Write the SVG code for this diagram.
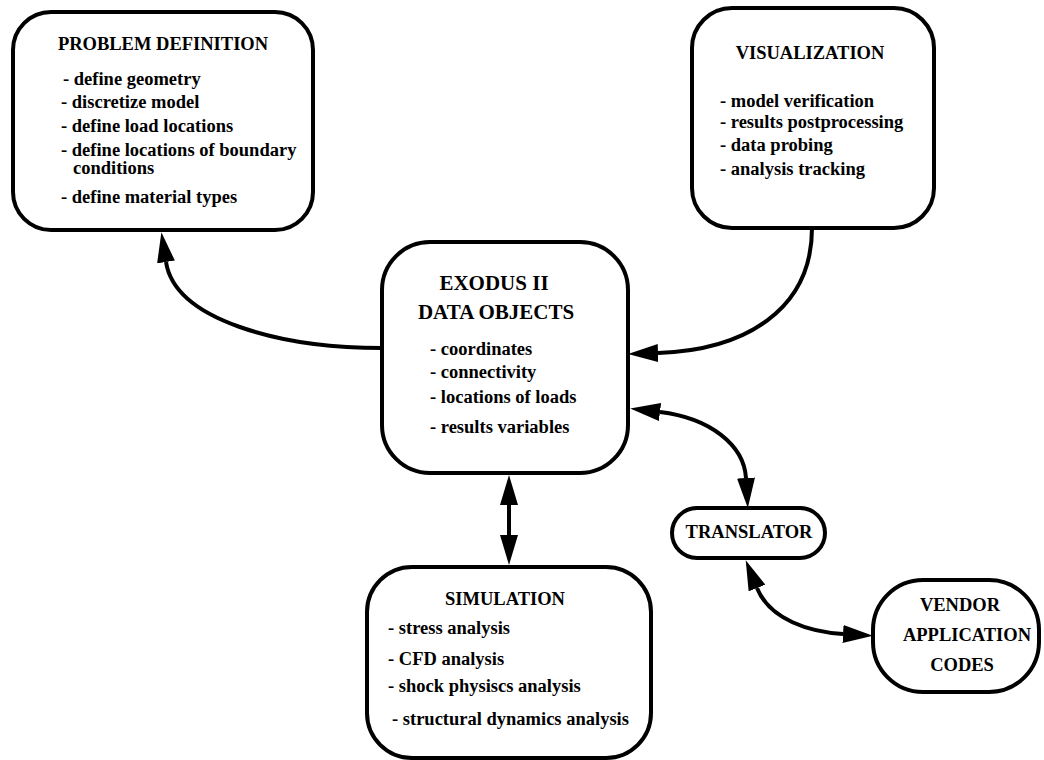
<svg xmlns="http://www.w3.org/2000/svg" width="1044" height="760" viewBox="0 0 1044 760">
<defs>
<marker id="ah" viewBox="0 0 30 18" refX="0" refY="9" markerWidth="30" markerHeight="18" markerUnits="userSpaceOnUse" orient="auto-start-reverse">
<path d="M0,0 L30,9 L0,18 z" fill="#000"/>
</marker>
<style>
.box{fill:#fff;stroke:#000;stroke-width:4}
.t{font-family:"Liberation Serif","Times New Roman",serif;font-weight:bold;font-size:18.5px;fill:#000}
.c{text-anchor:middle}
.big{font-size:21px}
.con{fill:none;stroke:#000;stroke-width:4}
</style>
</defs>
<rect width="1044" height="760" fill="#fff"/>
<g id="connectors">
<path class="con" d="M382,348 C280,348 175,320 166,262" marker-end="url(#ah)"/>
<path class="con" d="M812,228 C812,310 745,350 658,353" marker-end="url(#ah)"/>
<path class="con" d="M660,412 C710,418 744,445 746,478" marker-start="url(#ah)" marker-end="url(#ah)"/>
<path class="con" d="M757,588 C770,620 810,632 843,634" marker-start="url(#ah)" marker-end="url(#ah)"/>
<path class="con" d="M509,505 L509,535" marker-start="url(#ah)" marker-end="url(#ah)"/>
</g>
<g id="problem-definition">
<rect class="box" x="13" y="12" width="300" height="218" rx="38"/>
<text class="t c" x="163" y="50">PROBLEM DEFINITION</text>
<text class="t" x="63" y="85">- define geometry</text>
<text class="t" x="61" y="108">- discretize model</text>
<text class="t" x="61" y="132">- define load locations</text>
<text class="t" x="61" y="156">- define locations of boundary</text>
<text class="t" x="73" y="174">conditions</text>
<text class="t" x="61" y="203">- define material types</text>
</g>
<g id="visualization">
<rect class="box" x="692" y="8" width="242" height="220" rx="40"/>
<text class="t c" x="810" y="59">VISUALIZATION</text>
<text class="t" x="720" y="107">- model verification</text>
<text class="t" x="720" y="128">- results postprocessing</text>
<text class="t" x="720" y="151">- data probing</text>
<text class="t" x="720" y="175">- analysis tracking</text>
</g>
<g id="exodus">
<rect class="box" x="382" y="242" width="246" height="231" rx="48"/>
<text class="t c big" x="494" y="290">EXODUS II</text>
<text class="t c big" x="496" y="319">DATA OBJECTS</text>
<text class="t" x="430" y="355">- coordinates</text>
<text class="t" x="430" y="378">- connectivity</text>
<text class="t" x="430" y="403">- locations of loads</text>
<text class="t" x="430" y="433">- results variables</text>
</g>
<g id="simulation">
<rect class="box" x="367" y="567" width="284" height="191" rx="45"/>
<text class="t c" x="505" y="605">SIMULATION</text>
<text class="t" x="388" y="634">- stress analysis</text>
<text class="t" x="388" y="665">- CFD analysis</text>
<text class="t" x="388" y="692">- shock physiscs analysis</text>
<text class="t" x="392" y="725">- structural dynamics analysis</text>
</g>
<g id="translator">
<rect class="box" x="672" y="508" width="153" height="50" rx="25"/>
<text class="t c" x="749" y="538">TRANSLATOR</text>
</g>
<g id="vendor">
<rect class="box" x="873" y="580" width="166" height="112" rx="50"/>
<text class="t c" x="960" y="611">VENDOR</text>
<text class="t c" x="967" y="641">APPLICATION</text>
<text class="t c" x="962" y="671">CODES</text>
</g>
</svg>
